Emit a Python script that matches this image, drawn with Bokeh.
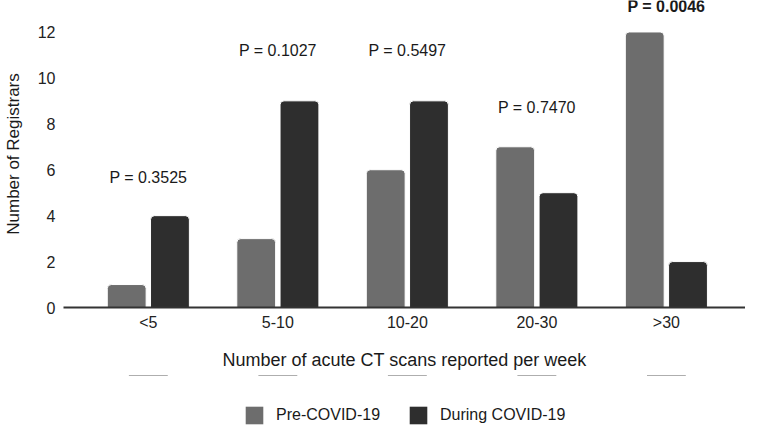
from bokeh.plotting import figure
from bokeh.models import ColumnDataSource, Range1d, FixedTicker, Legend, LegendItem
from bokeh.layouts import column
from bokeh.transform import dodge
from bokeh.core.properties import value
from bokeh.embed import file_html
from bokeh.resources import INLINE

categories = ["<5", "5-10", "10-20", "20-30", ">30"]
pre_covid = [1, 3, 6, 7, 12]
during_covid = [4, 9, 9, 5, 2]
p_labels = ["P = 0.3525", "P = 0.1027", "P = 0.5497", "P = 0.7470", "P = 0.0046"]
p_label_y = [5.65, 11.2, 11.2, 8.7, 13.1]
p_label_style = ["normal", "normal", "normal", "normal", "bold"]
y_ticks = [0, 2, 4, 6, 8, 10, 12]
series_names = ["Pre-COVID-19", "During COVID-19"]

FONT = "Liberation Sans"
PRE_COLOR = "#6d6d6d"
DUR_COLOR = "#2e2e2e"

xs = list(range(len(categories)))
src = ColumnDataSource(dict(x=xs, pre=pre_covid, dur=during_covid,
                            lab=p_labels, ly=p_label_y, fs=p_label_style))

p = figure(width=745, height=375, output_backend="svg", toolbar_location=None,
           x_range=Range1d(-0.655, 4.611), y_range=Range1d(0, 13.37),
           min_border_left=62, min_border_right=0, min_border_top=0,
           min_border_bottom=68)
p.outline_line_color = None
p.xgrid.visible = False
p.ygrid.visible = False

p.vbar(x=dodge("x", -0.167, range=p.x_range), top="pre", width=0.3, source=src,
       fill_color=PRE_COLOR, line_color="white", line_width=1,
       border_radius=(4, 4, 0, 0))
p.vbar(x=dodge("x", 0.167, range=p.x_range), top="dur", width=0.3, source=src,
       fill_color=DUR_COLOR, line_color="white", line_width=1,
       border_radius=(4, 4, 0, 0))

p.text(x="x", y="ly", text="lab", source=src, text_align="center",
       text_baseline="middle", text_font=value(FONT), text_font_size="16px",
       text_font_style="fs", text_color="#1a1a1a")

# x axis
xa = p.xaxis[0]
xa.ticker = FixedTicker(ticks=xs)
xa.major_label_overrides = {i: c for i, c in enumerate(categories)}
xa.minor_tick_line_color = None
xa.major_tick_line_color = None
xa.major_tick_out = 0
xa.major_tick_in = 0
xa.axis_line_color = "#333333"
xa.axis_line_width = 2
xa.major_label_standoff = 6
xa.major_label_text_font = FONT
xa.major_label_text_font_size = "16px"
xa.major_label_text_color = "#222222"
xa.axis_label = "Number of acute CT scans reported per week"
xa.axis_label_text_font = FONT
xa.axis_label_text_font_size = "18px"
xa.axis_label_text_font_style = "normal"
xa.axis_label_text_color = "#1a1a1a"
xa.axis_label_standoff = 16

# y axis
ya = p.yaxis[0]
ya.ticker = FixedTicker(ticks=y_ticks)
ya.minor_tick_line_color = None
ya.major_tick_line_color = None
ya.major_tick_out = 0
ya.major_tick_in = 0
ya.axis_line_color = None
ya.major_label_standoff = 8
ya.major_label_text_font = FONT
ya.major_label_text_font_size = "16px"
ya.major_label_text_color = "#222222"
ya.axis_label = "Number of Registrars"
ya.axis_label_text_font = FONT
ya.axis_label_text_font_size = "17px"
ya.axis_label_text_font_style = "normal"
ya.axis_label_text_color = "#1a1a1a"
ya.axis_label_standoff = 12

# legend strip underneath (its bars sit outside the strip's visible range)
lg = figure(width=745, height=54, output_backend="svg", toolbar_location=None,
            x_axis_location=None, y_axis_location=None, min_border=0,
            x_range=Range1d(-0.655, 4.611), y_range=Range1d(-2, -1))
lg.outline_line_color = None
lg.xgrid.visible = False
lg.ygrid.visible = False
k1 = lg.vbar(x="x", top="pre", width=0.3, source=src,
             fill_color=PRE_COLOR, line_color=None)
k2 = lg.vbar(x="x", top="dur", width=0.3, source=src,
             fill_color=DUR_COLOR, line_color=None)
leg = Legend(items=[LegendItem(label=series_names[0], renderers=[k1]),
                    LegendItem(label=series_names[1], renderers=[k2])],
             location=(180, 3), orientation="horizontal")
leg.border_line_color = None
leg.background_fill_alpha = 0
leg.margin = 0
leg.padding = 0
leg.spacing = 27
leg.glyph_width = 22
leg.glyph_height = 22
leg.label_standoff = 11
leg.label_text_font = FONT
leg.label_text_font_size = "16px"
leg.label_text_color = "#1a1a1a"
lg.add_layout(leg)

layout = column(p, lg, spacing=0)
open("out.html", "w").write(file_html(layout, INLINE))
